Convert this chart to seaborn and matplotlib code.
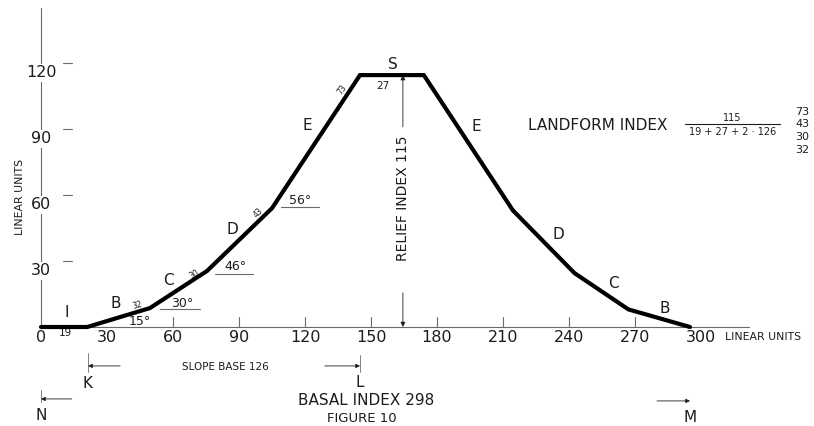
import matplotlib
matplotlib.use("Agg")
import matplotlib.pyplot as plt
import seaborn as sns
import pandas as pd

# ---- data ----
profile_x = [0, 21, 49.5, 75.5, 105, 145, 174, 214.5, 242.5, 267, 295]
profile_y = [0, 0, 8.6, 25.5, 54, 114.5, 114.5, 53, 24.5, 8, 0]

segment_labels = ["I", "B", "C", "D", "E", "S", "E", "D", "C", "B"]
segment_label_x = [11.8, 34, 58, 87, 121, 160, 198, 235, 260, 283.6]
segment_label_y = [6.4, 10.5, 21, 44.5, 91.5, 119.5, 91, 42, 20, 8.6]

angle_labels = ["15°", "30°", "46°", "56°"]
angle_x = [45, 64, 88.6, 117.7]
angle_y = [2.7, 10.5, 27.3, 57.7]
angle_line_x0 = [None, 54, 79, 109]
angle_line_x1 = [None, 72.3, 96.4, 126.4]
angle_line_y = [None, 8.2, 24, 54.5]

small_labels = ["19", "32", "30", "43", "73", "27"]
small_x = [11, 43.6, 69.5, 98.6, 137, 155.5]
small_y = [-2.6, 10, 24, 52, 108, 109.5]
small_rot = [0, 15, 30, 45, 55, 0]

x_ticks = [0, 30, 60, 90, 120, 150, 180, 210, 240, 270, 300]
x_tick_marks = [60, 90, 120, 150, 180, 210, 240, 270]
y_ticks = [30, 60, 90, 120]

relief_x = 164.5
relief_top = 114.5
relief_bottom = 0

landform_numbers = ["73", "43", "30", "32"]

# ---- figure ----
sns.set_theme(style="white")
plt.rcParams["font.family"] = ["DejaVu Sans"]
INK = "#1c1c1c"
AXC = "#6a6a6a"

fig = plt.figure(figsize=(8.14, 4.26), dpi=100)
ax = fig.add_axes([0, 0, 1, 1])

XLIM = (-41 / 2.2, (814 - 41) / 2.2)
YLIM = ((327 - 426) / 2.2, 327 / 2.2)

# axes drawn by hand (technical drawing style)
ax.plot([0, 322], [0, 0], color=AXC, lw=0.8, zorder=1)
ax.plot([0, 0], [0, 145], color=AXC, lw=0.8, zorder=1)
for t in x_tick_marks:
    ax.plot([t, t], [0, 4.5], color=AXC, lw=0.8, zorder=1)
for t in y_ticks:
    ax.plot([10, 14], [t, t], color=AXC, lw=0.8, zorder=1)

for t in x_ticks:
    ax.text(t, -4.6, str(t), ha="center", va="center", fontsize=11.5, color=INK)
for t in y_ticks:
    ax.text(0, t - 4.5, str(t), ha="center", va="center", fontsize=11.5, color=INK,
            bbox=dict(facecolor="white", edgecolor="none", pad=1.0), zorder=3)
ax.text(311, -4.6, "LINEAR UNITS", ha="left", va="center", fontsize=7.8, color=INK)
ax.text(-9.5, 59, "LINEAR UNITS", ha="center", va="center", rotation=90, fontsize=7.8, color=INK)

# profile
df = pd.DataFrame({"x": profile_x, "y": profile_y})
sns.lineplot(data=df, x="x", y="y", sort=False, estimator=None, color="black",
             lw=3.0, ax=ax, zorder=4, solid_joinstyle="miter")
ax.set_xlim(*XLIM)
ax.set_ylim(*YLIM)
ax.axis("off")

for lab, x, y in zip(segment_labels, segment_label_x, segment_label_y):
    ax.text(x, y, lab, ha="center", va="center", fontsize=11, color=INK)

for lab, x, y, x0, x1, yl in zip(angle_labels, angle_x, angle_y,
                                 angle_line_x0, angle_line_x1, angle_line_y):
    ax.text(x, y, lab, ha="center", va="center", fontsize=9, color=INK)
    if x0 is not None:
        ax.plot([x0, x1], [yl, yl], color=AXC, lw=0.8)

for lab, x, y, r in zip(small_labels, small_x, small_y, small_rot):
    fs = 7.5 if lab in ("19", "27") else 5.5
    ax.text(x, y, lab, ha="center", va="center", fontsize=fs, rotation=r, color=INK)

# relief index arrows
arr = dict(arrowstyle="-|>", color=INK, lw=0.6, mutation_scale=7, shrinkA=0, shrinkB=0)
ax.annotate("", xy=(relief_x, relief_top), xytext=(relief_x, 91), arrowprops=arr)
ax.annotate("", xy=(relief_x, relief_bottom), xytext=(relief_x, 15.5), arrowprops=arr)
ax.text(relief_x, 58.6, "RELIEF INDEX 115", rotation=90, ha="center", va="center",
        fontsize=10, color=INK)

# landform index
ax.text(221.4, 91.8, "LANDFORM INDEX", ha="left", va="center", fontsize=11, color=INK)
ax.plot([292.7, 336], [92.3, 92.3], color=INK, lw=0.8)
ax.text(314.3, 94.8, "115", ha="center", va="center", fontsize=7, color=INK)
ax.text(314.3, 88.6, "19 + 27 + 2 · 126", ha="center", va="center", fontsize=7, color=INK)
for lab, y in zip(landform_numbers, [97.7, 92.3, 86.4, 80.5]):
    ax.text(346, y, lab, ha="center", va="center", fontsize=8, color=INK)

# bottom dimension markers
arr2 = dict(arrowstyle="-|>", color=INK, lw=0.6, mutation_scale=6, shrinkA=0, shrinkB=0)
# K
ax.plot([21.4, 21.4], [-11.8, -20.5], color=AXC, lw=0.6)
ax.annotate("", xy=(21.4, -17.7), xytext=(36, -17.7), arrowprops=arr2)
ax.text(21, -25.5, "K", ha="center", va="center", fontsize=11, color=INK)
ax.text(83.6, -18.2, "SLOPE BASE 126", ha="center", va="center", fontsize=7.5, color=INK)
# L
ax.plot([145, 145], [-12.5, -20.5], color=AXC, lw=0.6)
ax.annotate("", xy=(145, -17.7), xytext=(129, -17.7), arrowprops=arr2)
ax.text(145, -25.2, "L", ha="center", va="center", fontsize=11, color=INK)
ax.text(148, -33.2, "BASAL INDEX 298", ha="center", va="center", fontsize=11, color=INK)
# N
ax.plot([0, 0], [-28.6, -34], color=AXC, lw=0.6)
ax.annotate("", xy=(0, -32.7), xytext=(14, -32.7), arrowprops=arr2)
ax.text(0, -40, "N", ha="center", va="center", fontsize=11, color=INK)
# M
ax.annotate("", xy=(295, -33.6), xytext=(280, -33.6), arrowprops=arr2)
ax.text(295, -41, "M", ha="center", va="center", fontsize=11, color=INK)
# caption (at the bottom edge, as in the reference)
ax.text(146, -41.6, "FIGURE 10", ha="center", va="center", fontsize=9.5, color=INK)

fig.savefig("out.png", dpi=100)
